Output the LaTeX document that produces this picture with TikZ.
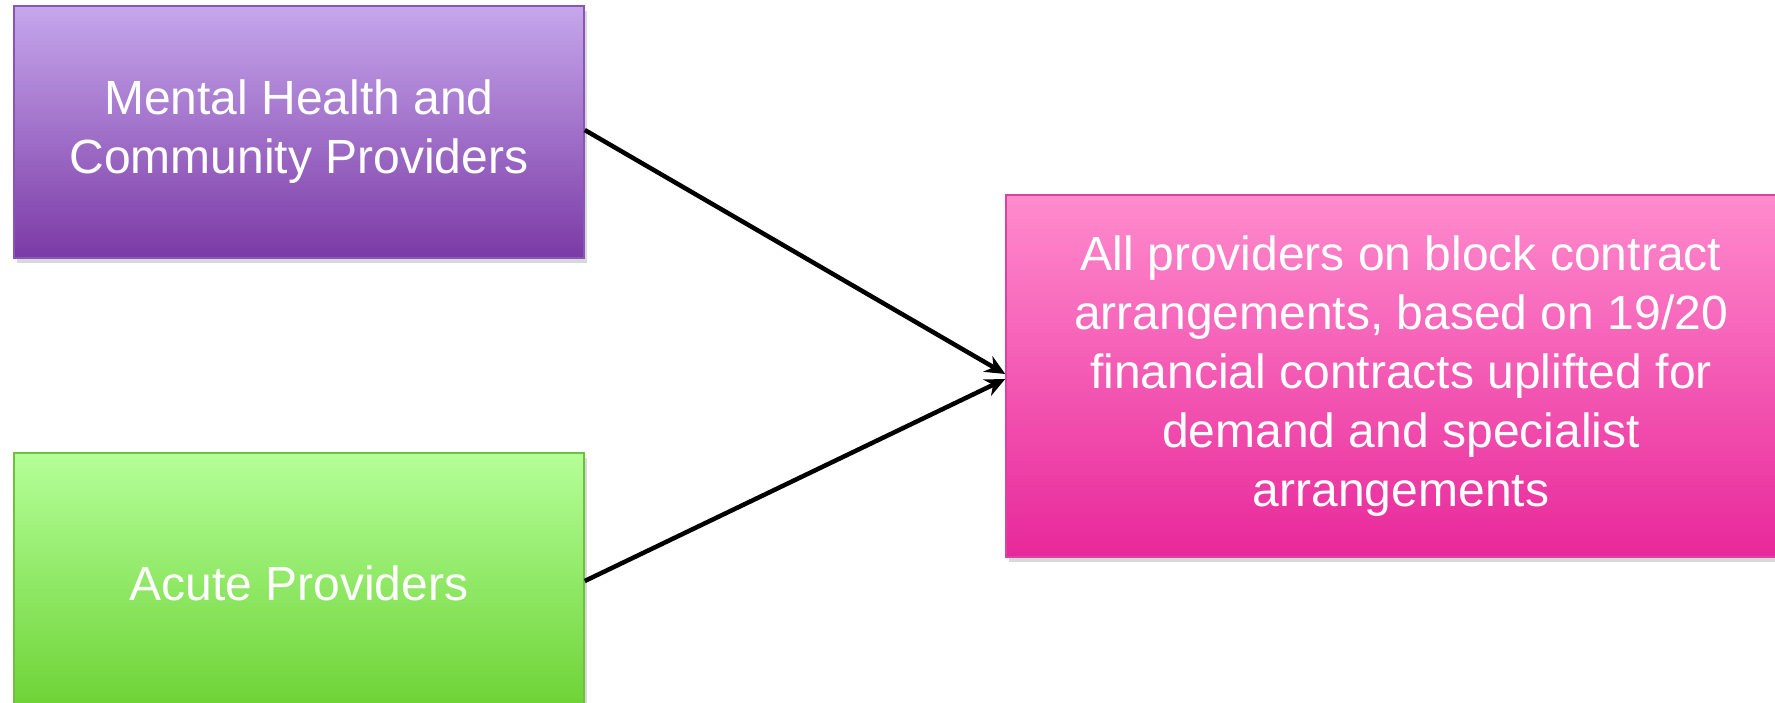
\documentclass[tikz,border=0pt]{standalone}
\usepackage{fontspec}
\setmainfont{Liberation Sans}
\usetikzlibrary{arrows.meta,shadows}
\definecolor{purpTop}{HTML}{C6A7EC}
\definecolor{purpBot}{HTML}{7B3AA6}
\definecolor{purpLine}{HTML}{8A55B8}
\definecolor{grnTop}{HTML}{B4FF98}
\definecolor{grnBot}{HTML}{6CD234}
\definecolor{grnLine}{HTML}{6CC23C}
\definecolor{pnkTop}{HTML}{FF8BCD}
\definecolor{pnkBot}{HTML}{E8289A}
\definecolor{pnkLine}{HTML}{D8449F}
\tikzset{
  gbox/.style={rectangle, line width=1.5pt, text=white, align=center,
    font=\fontsize{48}{59}\selectfont, inner sep=0pt,
    drop shadow={opacity=0.3, shadow xshift=3pt, shadow yshift=-5pt}},
  conn/.style={line width=4.5pt, draw=black, -{Stealth[length=20pt,width=18pt]}}
}
\begin{document}
\begin{tikzpicture}[x=1pt,y=-1pt]
\useasboundingbox (0,0) rectangle (1775,703);
\node[gbox, draw=purpLine, top color=purpTop, bottom color=purpBot,
  minimum width=570pt, minimum height=252pt] (mh) at (299,132)
  {Mental Health and\\Community Providers};
\node[gbox, draw=grnLine, top color=grnTop, bottom color=grnBot,
  minimum width=570pt, minimum height=260pt] (ac) at (299,583)
  {Acute Providers};
\node[gbox, draw=pnkLine, top color=pnkTop, bottom color=pnkBot,
  minimum width=790pt, minimum height=362pt] (all) at (1401,376)
  {All providers on block contract\\arrangements, based on 19/20\\financial contracts uplifted for\\demand and specialist\\arrangements};
\draw[conn] ([yshift=2pt]mh.east) -- ([yshift=2pt]all.west);
\draw[conn] ([yshift=2pt]ac.east) -- ([yshift=-3pt]all.west);
\end{tikzpicture}
\end{document}
